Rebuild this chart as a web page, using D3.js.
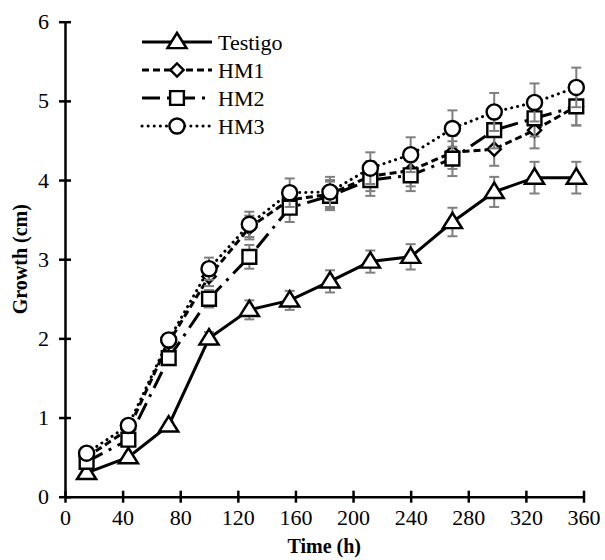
<!DOCTYPE html>
<html>
<head>
<meta charset="utf-8">
<script src="https://cdn.jsdelivr.net/npm/d3@7"></script>
<style>
  html, body { margin: 0; padding: 0; background: #fff; }
  svg { display: block; font-family: "Liberation Serif", "Times New Roman", serif; }
</style>
</head>
<body>
<svg id="chart" width="605" height="560"></svg>
<script>
// Sampling times (h)
const times = [15, 44, 72, 100, 128, 156, 184, 212, 240, 269, 298, 326, 355];

// Mean growth (cm) per treatment
const testigo = [0.30, 0.50, 0.90, 2.00, 2.36, 2.48, 2.72, 2.97, 3.03, 3.47, 3.85, 4.03, 4.03];
const hm1     = [0.50, 0.85, 1.95, 2.78, 3.40, 3.75, 3.82, 4.05, 4.12, 4.35, 4.39, 4.63, 4.93];
const hm2     = [0.44, 0.72, 1.75, 2.50, 3.03, 3.65, 3.80, 4.00, 4.06, 4.27, 4.63, 4.78, 4.93];
const hm3     = [0.55, 0.90, 1.98, 2.88, 3.44, 3.84, 3.85, 4.15, 4.32, 4.65, 4.86, 4.98, 5.17];

// Standard error of each mean (cm)
const testigoErr = [0.03, 0.04, 0.05, 0.08, 0.12, 0.12, 0.14, 0.14, 0.16, 0.18, 0.19, 0.20, 0.20];
const hm1Err     = [0.04, 0.05, 0.07, 0.12, 0.15, 0.17, 0.18, 0.19, 0.20, 0.21, 0.21, 0.23, 0.24];
const hm2Err     = [0.04, 0.05, 0.07, 0.11, 0.15, 0.18, 0.18, 0.20, 0.20, 0.22, 0.23, 0.23, 0.24];
const hm3Err     = [0.04, 0.05, 0.07, 0.14, 0.16, 0.18, 0.19, 0.20, 0.22, 0.23, 0.24, 0.24, 0.25];

const seriesNames = ["Testigo", "HM1", "HM2", "HM3"];

// Axis ticks
const xTicks = [0, 40, 80, 120, 160, 200, 240, 280, 320, 360];
const yTicks = [0, 1, 2, 3, 4, 5, 6];

const series = [
  { name: seriesNames[0], values: testigo, err: testigoErr, marker: "triangle", dash: null },
  { name: seriesNames[1], values: hm1, err: hm1Err, marker: "diamond", dash: "7,4" },
  { name: seriesNames[2], values: hm2, err: hm2Err, marker: "square", dash: "18,7,3,7" },
  { name: seriesNames[3], values: hm3, err: hm3Err, marker: "circle", dash: "0.1,6" }
];

const svg = d3.select("#chart");
const x = d3.scaleLinear().domain([0, 360]).range([65, 583.5]);
const y = d3.scaleLinear().domain([0, 6]).range([496.7, 21.7]);

// Axes with ticks crossing the axis line
const xAxis = svg.append("g")
  .attr("transform", `translate(0,${y(0)})`)
  .call(d3.axisBottom(x).tickValues(xTicks).tickFormat(d3.format("d"))
    .tickSize(6).tickPadding(7).tickSizeOuter(0));
xAxis.select(".domain").attr("stroke", "#000").attr("stroke-width", 2.5);
xAxis.selectAll(".tick line").attr("y1", -6).attr("y2", 6).attr("stroke-width", 2.5);
xAxis.selectAll(".tick text").attr("font-size", 22).attr("fill", "#000")
  .attr("font-family", "Liberation Serif");

const yAxis = svg.append("g")
  .attr("transform", `translate(${x(0)},0)`)
  .call(d3.axisLeft(y).tickValues(yTicks).tickFormat(d3.format("d"))
    .tickSize(6).tickPadding(10).tickSizeOuter(0));
yAxis.select(".domain").attr("stroke", "#000").attr("stroke-width", 2.5);
yAxis.selectAll(".tick line").attr("x1", -6).attr("x2", 6).attr("stroke-width", 2.5);
yAxis.selectAll(".tick text").attr("font-size", 22).attr("fill", "#000")
  .attr("font-family", "Liberation Serif");

// Axis titles
svg.append("text")
  .attr("x", (x(0) + x(360)) / 2).attr("y", 553)
  .attr("text-anchor", "middle").attr("font-weight", "bold").attr("font-size", 20)
  .text("Time (h)");
svg.append("text")
  .attr("transform", `translate(27,${(y(0) + y(6)) / 2}) rotate(-90)`)
  .attr("text-anchor", "middle").attr("font-weight", "bold").attr("font-size", 20)
  .text("Growth (cm)");

// Marker shapes
const symbolFor = {
  triangle: d3.symbol().type(d3.symbolTriangle).size(135),
  diamond: d3.symbol().type(d3.symbolSquare).size(88),
  square: d3.symbol().type(d3.symbolSquare).size(190),
  circle: d3.symbol().type(d3.symbolCircle).size(180)
};

function drawMarker(g, kind, cx, cy) {
  const p = g.append("path")
    .attr("d", symbolFor[kind]())
    .attr("fill", "#fff").attr("stroke", "#000").attr("stroke-width", 2.4);
  if (kind === "triangle") p.attr("transform", `translate(${cx},${cy + 1}) scale(1.08,1)`);
  else if (kind === "diamond") p.attr("transform", `translate(${cx},${cy}) rotate(45)`);
  else p.attr("transform", `translate(${cx},${cy})`);
}

const line = d3.line().x(d => x(d.t)).y(d => y(d.v));

series.forEach(s => {
  const pts = times.map((t, i) => ({ t, v: s.values[i], e: s.err[i] }));
  const g = svg.append("g");

  g.append("path")
    .datum(pts)
    .attr("d", line)
    .attr("fill", "none").attr("stroke", "#000").attr("stroke-width", 3)
    .attr("stroke-dasharray", s.dash)
    .attr("stroke-linecap", s.marker === "circle" ? "round" : "butt");

  // error bars
  const eb = g.append("g").attr("stroke", "#7f7f7f").attr("stroke-width", 2);
  pts.forEach(d => {
    eb.append("line").attr("x1", x(d.t)).attr("x2", x(d.t))
      .attr("y1", y(d.v - d.e)).attr("y2", y(d.v + d.e));
    [d.v - d.e, d.v + d.e].forEach(v => {
      eb.append("line").attr("x1", x(d.t) - 5).attr("x2", x(d.t) + 5)
        .attr("y1", y(v)).attr("y2", y(v));
    });
  });

  pts.forEach(d => drawMarker(g, s.marker, x(d.t), y(d.v)));
});

// Legend
const legend = svg.append("g");
const legY0 = 42, legStep = 28;
series.forEach((s, i) => {
  const ly = legY0 + i * legStep;
  legend.append("line")
    .attr("x1", 142).attr("x2", 212).attr("y1", ly).attr("y2", ly)
    .attr("stroke", "#000").attr("stroke-width", 3)
    .attr("stroke-dasharray", s.dash)
    .attr("stroke-linecap", s.marker === "circle" ? "round" : "butt");
  drawMarker(legend, s.marker, 177, ly);
  legend.append("text")
    .attr("x", 218).attr("y", ly + 7.5)
    .attr("font-size", 22).attr("fill", "#000")
    .text(s.name);
});
</script>
</body>
</html>
